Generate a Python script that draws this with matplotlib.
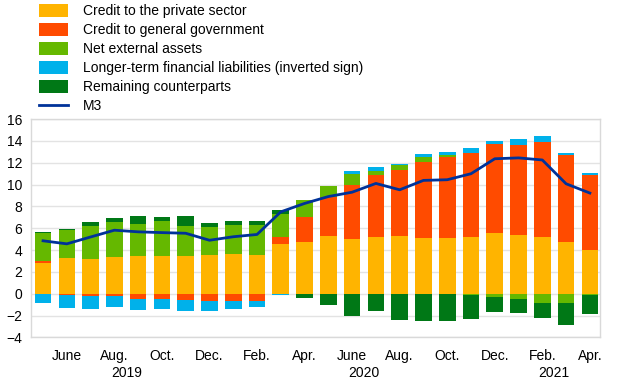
import matplotlib.pyplot as plt
from matplotlib.patches import Patch
from matplotlib.lines import Line2D
from matplotlib.transforms import blended_transform_factory
import numpy as np

plt.rcParams['font.family'] = ['Liberation Sans', 'DejaVu Sans']
plt.rcParams['font.size'] = 10

# Monthly data, May 2019 to April 2021 (annual growth contributions, %)
months = ["May", "June", "July", "Aug.", "Sep.", "Oct.", "Nov.", "Dec.",
          "Jan.", "Feb.", "Mar.", "Apr.", "May", "June", "July", "Aug.",
          "Sep.", "Oct.", "Nov.", "Dec.", "Jan.", "Feb.", "Mar.", "Apr."]
private_credit = [2.8, 3.27, 3.15, 3.33, 3.48, 3.48, 3.48, 3.57, 3.63, 3.57, 4.55, 4.72,
                  5.28, 5.01, 5.23, 5.25, 5.1, 5.1, 5.23, 5.6, 5.35, 5.23, 4.74, 4.03]
govt_credit = [0.2, -0.08, -0.2, -0.2, -0.45, -0.5, -0.55, -0.7, -0.7, -0.7, 0.64, 2.28,
               3.56, 4.97, 5.64, 6.05, 6.93, 7.43, 7.67, 8.13, 8.31, 8.64, 7.97, 6.84]
net_external = [2.53, 2.53, 3.08, 3.2, 2.93, 3.2, 2.75, 2.5, 2.63, 2.75, 2.14, 1.57,
                1.07, 0.95, 0.4, 0.5, 0.5, 0.21, -0.15, -0.33, -0.44, -0.84, -0.84, -0.12]
longer_term = [-0.8, -1.25, -1.2, -1.0, -1.0, -0.9, -1.0, -0.85, -0.7, -0.5, -0.15, 0.0,
               -0.06, 0.31, 0.3, 0.1, 0.27, 0.25, 0.46, 0.24, 0.5, 0.56, 0.19, 0.19]
remaining = [0.12, 0.15, 0.3, 0.45, 0.73, 0.35, 0.85, 0.4, 0.37, 0.37, 0.37, -0.42,
             -0.97, -2.04, -1.58, -2.36, -2.47, -2.53, -2.2, -1.37, -1.33, -1.35, -2.06, -1.77]
m3 = [4.85, 4.57, 5.2, 5.82, 5.67, 5.6, 5.54, 4.9, 5.22, 5.43, 7.5, 8.27,
      8.9, 9.3, 10.1, 9.52, 10.38, 10.44, 10.99, 12.36, 12.44, 12.25, 10.07, 9.22]

years = ["2019", "2020", "2021"]
year_months = [8, 12, 4]

series = [
    (private_credit, "#FFB400", "Credit to the private sector"),
    (govt_credit, "#FF4B00", "Credit to general government"),
    (net_external, "#65B800", "Net external assets"),
    (longer_term, "#00B1EA", "Longer-term financial liabilities (inverted sign)"),
    (remaining, "#007816", "Remaining counterparts"),
]

x = np.arange(len(months))

fig = plt.figure(figsize=(6.2, 3.87), dpi=100)
ax = fig.add_axes([0.0495, 0.128, 0.918, 0.5645])

# Stack positives upward and negatives downward, keeping the series order
pos_base = np.zeros(len(x))
neg_base = np.zeros(len(x))
for values, color, label in series:
    v = np.asarray(values, dtype=float)
    pos = np.where(v > 0, v, 0.0)
    neg = np.where(v < 0, v, 0.0)
    ax.bar(x, pos, 0.7, bottom=pos_base, color=color, linewidth=0, zorder=2)
    ax.bar(x, neg, 0.7, bottom=neg_base, color=color, linewidth=0, zorder=2)
    pos_base += pos
    neg_base += neg

ax.plot(x, m3, color="#003299", linewidth=2, zorder=3)

ax.set_xlim(-0.52, len(x) - 0.58)
ax.set_ylim(-4, 16)
ax.set_yticks(np.arange(-4, 17, 2))
ax.yaxis.grid(True, color="#e3e3e3", linewidth=1, zorder=0)
ax.set_axisbelow(True)
for spine in ax.spines.values():
    spine.set_color("#d9d9d9")
    spine.set_linewidth(1)
ax.tick_params(axis="y", length=0, pad=6)
ax.tick_params(axis="x", length=0, pad=8)

ax.set_xticks(x[1::2])
ax.set_xticklabels(months[1::2])

# Year labels centred under their months
trans = blended_transform_factory(ax.transData, ax.transAxes)
start = 0
for year, n in zip(years, year_months):
    center = start + (n - 1) / 2
    ax.text(center, -0.163, year, transform=trans, ha="center", va="center")
    start += n

handles = [Patch(facecolor=c, edgecolor="none", label=l) for _, c, l in series]
handles.append(Line2D([0], [0], color="#003299", linewidth=2, label="M3"))

fig.legend(
    handles=handles,
    loc="upper left",
    bbox_to_anchor=(39 / 620, 1 - 4 / 387),
    frameon=False,
    borderpad=0,
    borderaxespad=0,
    handlelength=2.1,
    handleheight=1.08,
    handletextpad=1.05,
    labelspacing=0.34,
)

fig.savefig("out.png", dpi=100)
